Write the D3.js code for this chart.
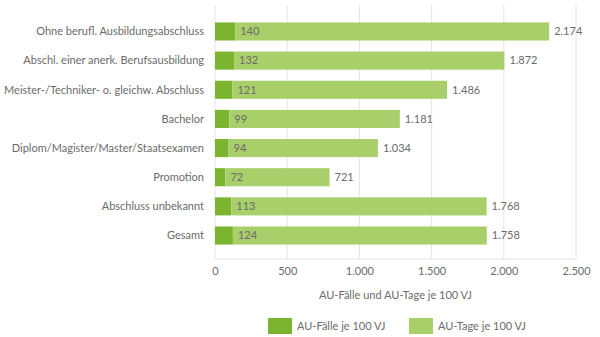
<!DOCTYPE html>
<html><head><meta charset="utf-8">
<script src="https://cdn.jsdelivr.net/npm/d3@7"></script>
<style>body{margin:0;background:#fff}svg{display:block}</style>
</head><body>
<svg id="c" width="600" height="337"></svg>
<script>
const categories = ["Ohne berufl. Ausbildungsabschluss","Abschl. einer anerk. Berufsausbildung","Meister-/Techniker- o. gleichw. Abschluss","Bachelor","Diplom/Magister/Master/Staatsexamen","Promotion","Abschluss unbekannt","Gesamt"];
const faelle = [140,132,121,99,94,72,113,124];
const tage = [2174,1872,1486,1181,1034,721,1768,1758];
const ticks = [0,500,1000,1500,2000,2500];
const seriesNames = ["AU-Fälle je 100 VJ","AU-Tage je 100 VJ"];
const axisTitle = "AU-Fälle und AU-Tage je 100 VJ";

const colors = ["#7bb52f","#a8cf6a"];
const font = "Lato, sans-serif";
const fs = "11px";
const textCol = "#6b6b6b";
const fmt = v => d3.format(",")(v).replace(/,/g,".");

const svg = d3.select("#c");
const L = 215, R = 576, T = 5, B = 259;
const x = d3.scaleLinear().domain([0,2500]).range([L,R]);
const y = d3.scaleBand().domain(categories).range([16.9,250.1]).paddingInner(0.38).paddingOuter(0.19);

const rows = categories.map((c,i)=>({cat:c, f:faelle[i], t:tage[i]}));
const stack = d3.stack().keys(["f","t"])(rows);

// grid
svg.append("g").selectAll("line").data(ticks).join("line")
  .attr("x1",d=>x(d)).attr("x2",d=>x(d)).attr("y1",T).attr("y2",B)
  .attr("stroke","#e4e4e4").attr("stroke-width",1);
svg.append("line").attr("x1",L).attr("x2",R).attr("y1",B).attr("y2",B).attr("stroke","#e4e4e4");

// bars
svg.append("g").selectAll("g").data(stack).join("g").attr("fill",(d,i)=>colors[i])
  .selectAll("rect").data(d=>d).join("rect")
  .attr("x",d=>x(d[0])).attr("width",d=>x(d[1])-x(d[0]))
  .attr("y",d=>y(d.data.cat)).attr("height",y.bandwidth());

// value labels
const lbl = svg.append("g").style("font-family",font).style("font-size",fs).attr("fill",textCol);
lbl.selectAll("text.f").data(rows).join("text").attr("class","f")
  .attr("x",d=>x(d.f)+5).attr("y",d=>y(d.cat)+y.bandwidth()/2).attr("dy","0.35em").text(d=>fmt(d.f));
lbl.selectAll("text.t").data(rows).join("text").attr("class","t")
  .attr("x",d=>x(d.f+d.t)+5).attr("y",d=>y(d.cat)+y.bandwidth()/2).attr("dy","0.35em").text(d=>fmt(d.t));

// category labels
svg.append("g").selectAll("text").data(categories).join("text")
  .attr("x",204).attr("y",d=>y(d)+y.bandwidth()/2).attr("dy","0.35em").attr("text-anchor","end")
  .style("font-family",font).style("font-size",fs).attr("fill",textCol).text(d=>d);

// x axis
const ax = svg.append("g").attr("transform",`translate(0,${B})`)
  .call(d3.axisBottom(x).tickValues(ticks).tickSize(0).tickPadding(8).tickFormat(fmt));
ax.select(".domain").remove();
ax.selectAll("text").style("font-family",font).style("font-size",fs).attr("fill",textCol);

svg.append("text").attr("x",(L+R)/2).attr("y",295).attr("dy","0.35em").attr("text-anchor","middle")
  .style("font-family",font).style("font-size",fs).attr("fill",textCol).text(axisTitle);

// legend
const legX = [268,409];
const lg = svg.append("g").selectAll("g").data(seriesNames).join("g")
  .attr("transform",(d,i)=>`translate(${legX[i]},318)`);
lg.append("rect").attr("width",24).attr("height",16).attr("fill",(d,i)=>colors[i]);
lg.append("text").attr("x",29).attr("y",8).attr("dy","0.35em")
  .style("font-family",font).style("font-size",fs).attr("fill",textCol).text(d=>d);
</script>
</body></html>
